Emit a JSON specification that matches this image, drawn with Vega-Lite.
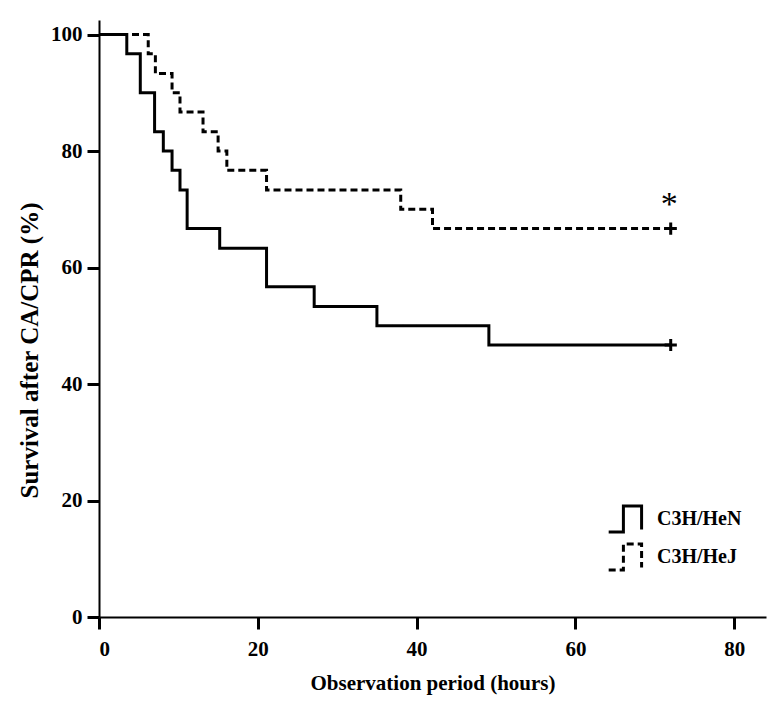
{
  "$schema": "https://vega.github.io/schema/vega-lite/v6.json",
  "width": 667,
  "height": 597,
  "autosize": {"type": "none"},
  "padding": {"left": 99, "top": 20, "right": 13, "bottom": 102},
  "background": "white",
  "config": {
    "view": {"stroke": null},
    "font": "Liberation Serif",
    "axis": {
      "domainColor": "black",
      "domainWidth": 2,
      "tickColor": "black",
      "tickWidth": 3,
      "tickSize": 12,
      "grid": false,
      "labelFont": "Liberation Serif",
      "labelFontWeight": "bold",
      "labelFontSize": 21,
      "labelColor": "black",
      "titleFont": "Liberation Serif",
      "titleFontWeight": "bold",
      "titleFontSize": 21,
      "titleColor": "black"
    },
    "legend": {
      "labelFont": "Liberation Serif",
      "labelFontWeight": "bold",
      "labelFontSize": 20,
      "labelColor": "black"
    }
  },
  "datasets": {
    "km": [
      {"strain": "C3H/HeN", "time": 0, "surv": 100},
      {"strain": "C3H/HeN", "time": 3.5, "surv": 96.7},
      {"strain": "C3H/HeN", "time": 5.2, "surv": 90},
      {"strain": "C3H/HeN", "time": 7.0, "surv": 83.3},
      {"strain": "C3H/HeN", "time": 8.1, "surv": 80},
      {"strain": "C3H/HeN", "time": 9.2, "surv": 76.7},
      {"strain": "C3H/HeN", "time": 10.2, "surv": 73.3},
      {"strain": "C3H/HeN", "time": 11.1, "surv": 66.7},
      {"strain": "C3H/HeN", "time": 15.2, "surv": 63.3},
      {"strain": "C3H/HeN", "time": 21.1, "surv": 56.7},
      {"strain": "C3H/HeN", "time": 27.1, "surv": 53.3},
      {"strain": "C3H/HeN", "time": 35.0, "surv": 50},
      {"strain": "C3H/HeN", "time": 49.1, "surv": 46.7},
      {"strain": "C3H/HeN", "time": 72, "surv": 46.7},
      {"strain": "C3H/HeJ", "time": 0, "surv": 100},
      {"strain": "C3H/HeJ", "time": 6.2, "surv": 96.7},
      {"strain": "C3H/HeJ", "time": 7.1, "surv": 93.3},
      {"strain": "C3H/HeJ", "time": 9.2, "surv": 90},
      {"strain": "C3H/HeJ", "time": 10.2, "surv": 86.7},
      {"strain": "C3H/HeJ", "time": 13.1, "surv": 83.3},
      {"strain": "C3H/HeJ", "time": 15.0, "surv": 80},
      {"strain": "C3H/HeJ", "time": 16.1, "surv": 76.7},
      {"strain": "C3H/HeJ", "time": 21.1, "surv": 73.3},
      {"strain": "C3H/HeJ", "time": 38.0, "surv": 70},
      {"strain": "C3H/HeJ", "time": 42.0, "surv": 66.7},
      {"strain": "C3H/HeJ", "time": 72, "surv": 66.7}
    ],
    "censor": [
      {"strain": "C3H/HeN", "time": 72, "surv": 46.7},
      {"strain": "C3H/HeJ", "time": 72, "surv": 66.7}
    ],
    "sig": [
      {"time": 71.8, "surv": 70.8, "label": "*"}
    ]
  },
  "layer": [
    {
      "data": {"name": "km"},
      "mark": {"type": "line", "interpolate": "step-after", "color": "black", "strokeWidth": 3},
      "encoding": {
        "x": {
          "field": "time", "type": "quantitative",
          "scale": {"domain": [0, 84], "nice": false, "zero": false},
          "axis": {"values": [0, 20, 40, 60, 80], "title": "Observation period (hours)", "labelPadding": 9, "titlePadding": 13}
        },
        "y": {
          "field": "surv", "type": "quantitative",
          "scale": {"domain": [0, 102.5], "nice": false},
          "axis": {"values": [0, 20, 40, 60, 80, 100], "title": "Survival after CA/CPR (%)", "labelPadding": 5, "titleFontSize": 25, "titleX": -70, "titleY": 330, "titleBaseline": "middle", "titleAlign": "center"}
        },
        "strokeDash": {
          "field": "strain", "type": "nominal",
          "scale": {"domain": ["C3H/HeN", "C3H/HeJ"], "range": [[1, 0], [7, 4]]},
          "legend": {
            "title": null,
            "orient": "none",
            "legendX": 508,
            "legendY": 480,
            "symbolType": "M-1,0.75H-0.15V-0.75H0.9V0.6",
            "symbolSize": 1200,
            "symbolStrokeWidth": 3,
            "symbolStrokeColor": "black",
            "symbolFillColor": "transparent",
            "rowPadding": 0,
            "labelOffset": 12
          }
        },
        "detail": {"field": "strain"}
      }
    },
    {
      "data": {"name": "censor"},
      "mark": {"type": "point", "shape": "M-1,0H1M0,-1V1", "size": 150, "stroke": "black", "strokeWidth": 3, "filled": false, "opacity": 1},
      "encoding": {
        "x": {"field": "time", "type": "quantitative"},
        "y": {"field": "surv", "type": "quantitative"}
      }
    },
    {
      "data": {"name": "sig"},
      "mark": {"type": "text", "fontSize": 34, "font": "Liberation Serif", "color": "black", "baseline": "middle", "align": "center"},
      "encoding": {
        "x": {"field": "time", "type": "quantitative"},
        "y": {"field": "surv", "type": "quantitative"},
        "text": {"field": "label"}
      }
    }
  ]
}
